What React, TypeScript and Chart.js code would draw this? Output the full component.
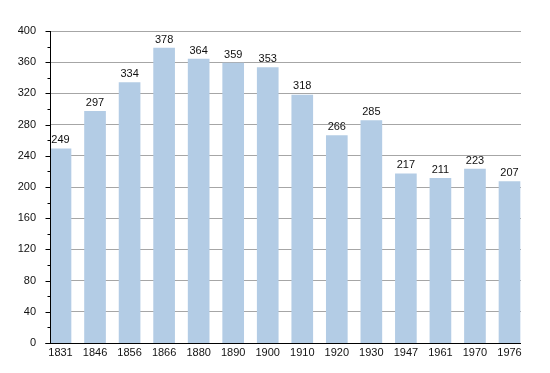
import React, { useEffect, useRef } from "react";
import { Chart, registerables } from "chart.js";

Chart.register(...registerables);

const years = ["1831", "1846", "1856", "1866", "1880", "1890", "1900", "1910", "1920", "1930", "1947", "1961", "1970", "1976"];
const population = [249, 297, 334, 378, 364, 359, 353, 318, 266, 285, 217, 211, 223, 207];

const Y_MIN = 0;
const Y_MAX = 400;
const Y_STEP = 20;
const Y_LABEL_STEP = 40;

const FONT = "'Liberation Sans', Arial, sans-serif";

const axesPlugin = {
  id: "customAxes",
  afterDatasetsDraw(chart: any) {
    const { ctx, chartArea, scales } = chart;
    const y = scales.y;
    ctx.save();
    ctx.strokeStyle = "#000";
    ctx.lineWidth = 1;
    ctx.beginPath();
    const ax = Math.round(chartArea.left) + 0.5;
    ctx.moveTo(ax, chartArea.top);
    ctx.lineTo(ax, chartArea.bottom);
    for (let v = Y_MIN; v <= Y_MAX; v += Y_STEP) {
      const py = Math.round(y.getPixelForValue(v)) + 0.5;
      const len = v % Y_LABEL_STEP === 0 ? 5 : 3;
      ctx.moveTo(ax - len, py);
      ctx.lineTo(ax, py);
    }
    const by = Math.round(chartArea.bottom) + 0.5;
    ctx.moveTo(ax - 5, by);
    ctx.lineTo(chartArea.right, by);
    ctx.stroke();

    // value labels
    ctx.fillStyle = "#111";
    ctx.font = `11px ${FONT}`;
    ctx.textAlign = "center";
    ctx.textBaseline = "bottom";
    const meta = chart.getDatasetMeta(0);
    meta.data.forEach((bar: any, i: number) => {
      ctx.fillText(String(population[i]), bar.x, bar.y - 3);
    });
    ctx.restore();
  },
};

export default function App() {
  const ref = useRef<HTMLCanvasElement | null>(null);
  useEffect(() => {
    if (!ref.current) return;
    const chart = new Chart(ref.current, {
      type: "bar",
      data: {
        datasets: [
          {
            data: population.map((v, i) => ({ x: i, y: v })),
            backgroundColor: "#b3cce5",
            borderWidth: 0,
            barThickness: 21,
          },
        ],
      },
      options: {
        animation: false,
        responsive: false,
        maintainAspectRatio: false,
        layout: { padding: { left: 0, right: 29, top: 31, bottom: 0 } },
        plugins: { legend: { display: false }, tooltip: { enabled: false } },
        scales: {
          x: {
            type: "linear",
            offset: false,
            bounds: "ticks",
            min: -0.304,
            max: 13.333,
            grid: { display: false, drawTicks: false },
            border: { display: false },
            afterBuildTicks: (scale: any) => {
              scale.ticks = years.map((_, i) => ({ value: i }));
            },
            afterFit: (scale: any) => {
              scale.height = 30;
            },
            ticks: {
              autoSkip: false,
              maxRotation: 0,
              padding: 3,
              color: "#111",
              font: { family: FONT, size: 11 },
              callback: (v: any) => years[v] ?? "",
            },
          },
          y: {
            min: Y_MIN,
            max: Y_MAX,
            border: { display: false },
            grid: {
              drawTicks: false,
              color: (c: any) => (c.tick && c.tick.value % Y_LABEL_STEP === 0 ? "#a6a6a6" : "#e2e2e2"),
              lineWidth: (c: any) => (c.tick && c.tick.value === 0 ? 0 : 1),
            },
            afterFit: (scale: any) => {
              scale.width = 50;
            },
            ticks: {
              stepSize: Y_STEP,
              padding: 14,
              color: "#111",
              font: { family: FONT, size: 11 },
              callback: (v: any) => (v % Y_LABEL_STEP === 0 ? String(v) : ""),
            },
          },
        },
      },
      plugins: [axesPlugin],
    } as any);
    return () => chart.destroy();
  }, []);
  return (
    <div style={{ position: "fixed", left: 0, top: 0, width: 550, height: 373, background: "#fff" }}>
      <canvas ref={ref} width={550} height={373} style={{ width: 550, height: 373, display: "block" }} />
    </div>
  );
}
